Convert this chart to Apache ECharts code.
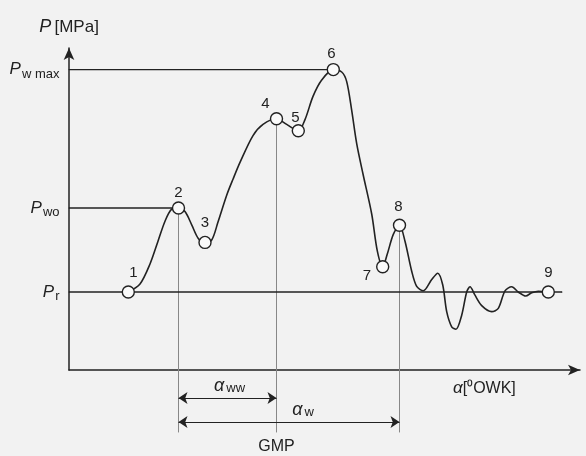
<!DOCTYPE html>
<html>
<head>
<meta charset="utf-8">
<script src="https://cdn.jsdelivr.net/npm/echarts@6/dist/echarts.min.js"></script>
<style>
  html, body { margin: 0; background: #f2f2f2; }
  #chart { width: 586px; height: 456px; }
</style>
</head>
<body>
<div id="chart"></div>
<script>
  // pressure curve (x: crank angle, arbitrary units; y: pressure)
  const curveX = [29.65, 35.5, 40.5, 44.5, 48, 51.35, 54.75, 58, 61.35, 64.65, 68, 71.35, 74.5, 78.85, 82, 85.5, 92, 97,
    103.75, 108.85, 114.65, 118, 122, 126.35, 132.15, 136.35, 138.85, 141.35, 143.85, 147, 151.35, 154.15, 156.85,
    159.15, 162.15, 165.25, 168, 171.35, 173.85, 177.15, 181.35, 184.35, 186.85, 188.85, 191.35, 193.5, 196.35,
    198.85, 200.5, 203, 206.35, 211.35, 214.65, 218, 221.35, 224.65, 228.35, 231.35, 234.65, 239.65]
  const curveY = [1.95, 2.15, 2.65, 3.22, 3.72, 4.02, 4.05, 3.96, 3.63, 3.29, 3.19, 3.25, 3.70, 4.37, 4.77, 5.19, 5.86, 6.14,
    6.28, 6.14, 5.98, 6.26, 6.84, 7.25, 7.51, 7.45, 7.21, 6.49, 5.66, 4.90, 3.90, 2.98, 2.58,
    2.90, 3.39, 3.62, 3.22, 2.47, 2.09, 1.98, 2.26, 2.42, 2.13, 1.46, 1.08, 1.02, 1.37,
    1.95, 2.08, 1.87, 1.61, 1.46, 1.54, 1.98, 2.08, 1.95, 1.85, 1.93, 1.97, 1.95]

  // circled points 1..9
  const pointNames = ['1', '2', '3', '4', '5', '6', '7', '8', '9']
  const pointX = [29.65, 54.75, 68, 103.75, 114.65, 132.15, 156.85, 165.25, 239.65]
  const pointY = [1.95, 4.05, 3.19, 6.28, 5.98, 7.51, 2.58, 3.62, 1.95]

  // pressure levels P_w max, P_wo, P_r
  const levelNames = ['w max', 'wo', 'r']
  const levelValues = [7.51, 4.05, 1.95]
  const levelEnds = [132.15, 54.75, 246.5]

  // vertical guides at points 2, 4 (GMP), 8
  const guideNames = ['', 'GMP', '']
  const guideX = [54.75, 103.75, 165.25]
  const guideTop = [4.05, 6.28, 3.62]
  const guideBottom = -1.55

  // angle spans α_ww, α_w
  const spanNames = ['ww', 'w']
  const spanFrom = [54.75, 54.75]
  const spanTo = [103.75, 165.25]
  const spanY = [-0.7, -1.3]

  const font = 'Liberation Sans, Arial, sans-serif'
  const ink = '#222222'
  // label nudges for the point numbers
  const pointLabelPos = ['top', 'top', 'top', 'top', 'top', 'top', 'left', 'top', 'top']
  const pointLabelOffset = [[5, 0], [0, 4], [0, 0], [-11, 4], [-3, 6], [-2, 3], [0, 9], [-1, 1], [0, 0]]

  let chart = echarts.init(document.getElementById('chart'))

  let series = []

  // curve
  series.push({
    type: 'line',
    data: curveX.map((x, i) => [x, curveY[i]]),
    smooth: 0.3,
    symbol: 'none',
    clip: false,
    lineStyle: { color: ink, width: 1.6 },
    z: 3
  })

  // horizontal levels with their labels on the axis
  levelNames.forEach((name, i) => {
    series.push({
      type: 'line',
      data: [
        {
          value: [0, levelValues[i]],
          label: {
            show: true,
            position: 'left',
            distance: 9,
            formatter: '{p|P}{s|' + name + '}',
            rich: {
              p: { fontSize: 17, fontStyle: 'italic', fontFamily: font, color: ink },
              s: { fontSize: 13, fontFamily: font, color: ink, padding: [9, 0, 0, 1] }
            }
          }
        },
        [levelEnds[i], levelValues[i]]
      ],
      symbol: 'circle',
      symbolSize: 1,
      itemStyle: { color: ink },
      clip: false,
      lineStyle: { color: ink, width: 1.4 },
      z: 2
    })
  })

  // vertical guides
  guideX.forEach((x, i) => {
    series.push({
      type: 'line',
      data: [
        [x, guideTop[i]],
        {
          value: [x, guideBottom],
          label: {
            show: guideNames[i] !== '',
            position: 'bottom',
            distance: 6,
            formatter: guideNames[i],
            fontSize: 16,
            fontFamily: font,
            color: ink
          }
        }
      ],
      symbol: 'circle',
      symbolSize: 1,
      itemStyle: { color: '#888' },
      clip: false,
      lineStyle: { color: '#888', width: 1 },
      z: 1
    })
  })

  // span arrows
  series.push({
    type: 'lines',
    coordinateSystem: 'cartesian2d',
    clip: false,
    symbol: ['arrow', 'arrow'],
    symbolSize: 9,
    lineStyle: { color: ink, width: 1.2, opacity: 1 },
    label: {
      show: true,
      position: 'middle',
      distance: 3,
      rich: {
        a: { fontSize: 18, fontStyle: 'italic', fontFamily: font, color: ink },
        s: { fontSize: 13, fontFamily: font, color: ink, padding: [6, 0, 0, 2] }
      }
    },
    data: spanNames.map((name, i) => ({
      coords: [[spanFrom[i], spanY[i]], [spanTo[i], spanY[i]]],
      label: { formatter: '{a|α}{s|' + name + '}', offset: i === 1 ? [14, 0] : [2, 0] }
    })),
    z: 2
  })

  // circled points
  series.push({
    type: 'scatter',
    data: pointNames.map((n, i) => ({
      value: [pointX[i], pointY[i]],
      name: n,
      label: { position: pointLabelPos[i], offset: pointLabelOffset[i] }
    })),
    symbol: 'circle',
    symbolSize: 12,
    clip: false,
    itemStyle: { color: '#fafafa', borderColor: ink, borderWidth: 1.4, opacity: 1 },
    label: {
      show: true,
      formatter: '{b}',
      fontSize: 15,
      fontFamily: font,
      color: ink
    },
    z: 5
  })

  chart.setOption({
    backgroundColor: '#f2f2f2',
    animation: false,
    grid: { left: 69, right: 6, top: 48, bottom: 86, outerBoundsMode: 'none', containLabel: false },
    xAxis: {
      type: 'value',
      min: 0,
      max: 255.5,
      name: '{a|α}{b|[⁰OWK]}',
      nameLocation: 'end',
      nameGap: -127,
      nameMoveOverlap: false,
      nameTextStyle: {
        align: 'left',
        verticalAlign: 'top',
        padding: [10, 0, 0, 0],
        rich: {
          a: { fontSize: 17, fontStyle: 'italic', fontFamily: font, color: ink },
          b: { fontSize: 16, fontFamily: font, color: ink }
        }
      },
      axisLine: { show: true, onZero: false, symbol: ['none', 'arrow'], symbolSize: [8, 12], lineStyle: { color: ink, width: 1.5 } },
      axisTick: { show: false },
      axisLabel: { show: false },
      splitLine: { show: false }
    },
    yAxis: {
      type: 'value',
      min: 0,
      max: 8.05,
      name: '{p|P} {b|[MPa]}',
      nameLocation: 'end',
      nameGap: 12,
      nameMoveOverlap: false,
      nameTextStyle: {
        rich: {
          p: { fontSize: 18, fontStyle: 'italic', fontFamily: font, color: ink },
          b: { fontSize: 17, fontFamily: font, color: ink }
        }
      },
      axisLine: { show: true, onZero: false, symbol: ['none', 'arrow'], symbolSize: [8, 12], lineStyle: { color: ink, width: 1.5 } },
      axisTick: { show: false },
      axisLabel: { show: false },
      splitLine: { show: false }
    },
    series: series
  })
</script>
</body>
</html>
